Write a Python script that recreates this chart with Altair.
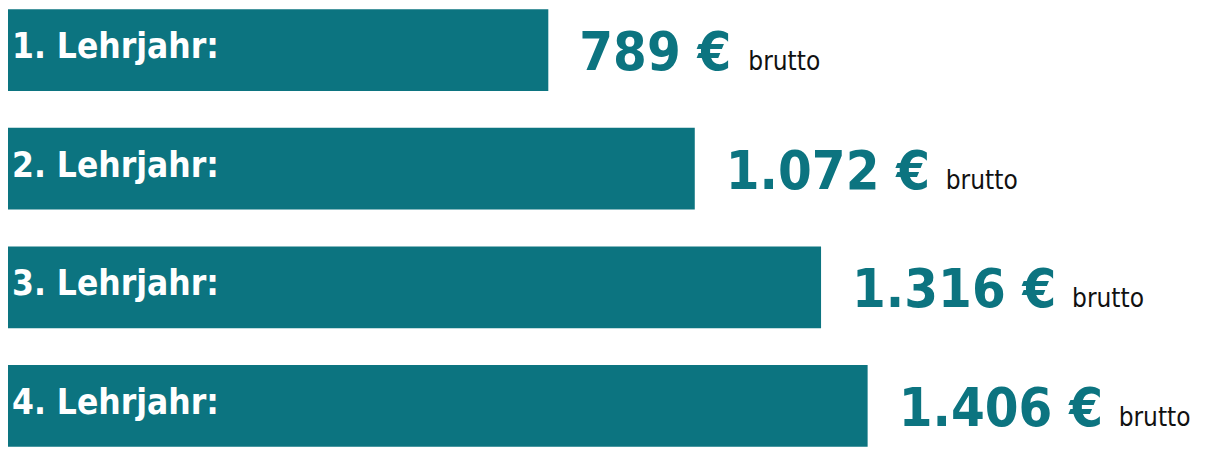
import altair as alt
import pandas as pd

# Data
categories = ["1. Lehrjahr:", "2. Lehrjahr:", "3. Lehrjahr:", "4. Lehrjahr:"]
values = [789, 1072, 1316, 1406]
value_labels = ["789 €", "1.072 €", "1.316 €", "1.406 €"]
suffix = ["brutto", "brutto", "brutto", "brutto"]

df = pd.DataFrame({"cat": categories, "value": values,
                   "vlabel": value_labels, "suffix": suffix})

TEAL = "#0c7480"
FONT = "DejaVu Sans Condensed, DejaVu Sans"
X_MIN, X_MAX = -255, 2083
PX_PER_UNIT = 1210 / (X_MAX - X_MIN)

x_scale = alt.Scale(domain=[X_MIN, X_MAX], nice=False, zero=False)
y_enc = alt.Y("cat:N", sort=categories, axis=None,
              scale=alt.Scale(paddingInner=0.31, paddingOuter=0.01))

base = alt.Chart(df).encode(y=y_enc)

bars = base.mark_bar(color=TEAL).encode(
    x=alt.X("value:Q", scale=x_scale, axis=None),
    x2=alt.datum(X_MIN),
)

cat_text = base.mark_text(align="left", baseline="alphabetic", dy=8, dx=0,
                          font=FONT, fontWeight="bold", fontSize=35,
                          color="white").encode(
    x=alt.value(4),
    text="cat:N",
)

val_text = base.mark_text(align="left", baseline="alphabetic", dx=31, dy=20,
                          font=FONT, fontWeight="bold", fontSize=54,
                          color=TEAL).encode(
    x=alt.X("value:Q", scale=x_scale),
    text="vlabel:N",
)

suffix_text = base.transform_calculate(
    sx=f"datum.value + (200 + (length(datum.vlabel) - 5) * 25.5) / {PX_PER_UNIT}"
).mark_text(align="left", baseline="alphabetic", dy=20,
            font=FONT, fontSize=26, color="#111111").encode(
    x=alt.X("sx:Q", scale=x_scale),
    text="suffix:N",
)

chart = alt.layer(bars, cat_text, val_text, suffix_text).properties(
    width=1210, height=440,
    padding=0,
    autosize=alt.AutoSizeParams(type="fit", contains="padding"),
).configure_view(stroke=None)

chart.save("out.html", embed_options={"renderer": "svg", "actions": False})
